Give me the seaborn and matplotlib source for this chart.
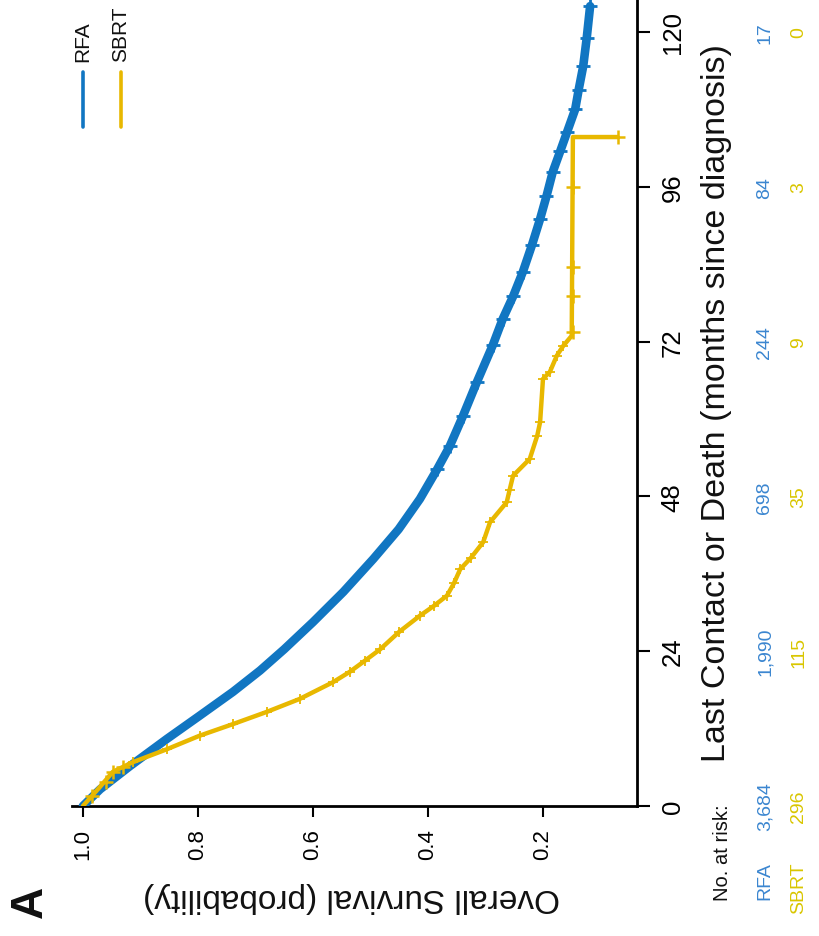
import matplotlib
matplotlib.use("Agg")
import matplotlib.pyplot as plt
from matplotlib import font_manager
from matplotlib.lines import Line2D
import matplotlib.transforms as mtransforms
import seaborn as sns
import numpy as np
import pandas as pd

# ---------------- data ----------------
rfa_months = [0, 2.6, 6.2, 10.4, 14, 17.7, 21, 24.3, 28.5, 33.2, 38.3, 42.9, 47.6,
              52.2, 55.8, 60.5, 65.7, 71.5, 75.5, 79, 82.8, 87, 91, 94.5, 98.3,
              101.5, 104.5, 108, 111, 114.7, 119, 124]
rfa_surv = [1.0, 0.97, 0.918, 0.854, 0.797, 0.739, 0.692, 0.650, 0.600, 0.547,
            0.495, 0.451, 0.414, 0.384, 0.362, 0.339, 0.315, 0.287, 0.27, 0.252,
            0.235, 0.219, 0.205, 0.194, 0.183, 0.17, 0.158, 0.144, 0.138, 0.13,
            0.124, 0.118]

sbrt_months = [0, 1.5, 3, 5.3, 6.8, 8.8, 10.9, 12.7, 14.6, 16.6, 19.2, 20.8, 22.5,
               24.3, 27, 29.5, 31, 32.6, 34.5, 36.7, 38.5, 40.9, 44, 47.1, 49,
               51.2, 53.8, 57.4, 59.5, 66.2, 67.3, 69.8, 71.3, 72.9, 103.7, 103.7]
sbrt_surv = [1.0, 0.985, 0.97, 0.948, 0.913, 0.854, 0.797, 0.739, 0.680, 0.623,
             0.565, 0.536, 0.51, 0.483, 0.45, 0.414, 0.39, 0.367, 0.355, 0.344,
             0.325, 0.304, 0.292, 0.263, 0.258, 0.252, 0.223, 0.210, 0.205, 0.2,
             0.188, 0.176, 0.165, 0.150, 0.148, 0.07]

sbrt_cens_months = [1.5, 3.7, 5.3, 6.0, 73.5, 79, 83.5, 96, 103.7]
sbrt_cens_surv = [0.985, 0.96, 0.948, 0.93, 0.148, 0.148, 0.148, 0.148, 0.07]

month_ticks = [0, 24, 48, 72, 96, 120]
surv_ticks = [1.0, 0.8, 0.6, 0.4, 0.2]
surv_tick_labels = ["1.0", "0.8", "0.6", "0.4", "0.2"]

groups = ["RFA", "SBRT"]
risk_rfa = ["3,684", "1,990", "698", "244", "84", "17"]
risk_sbrt = ["296", "115", "35", "9", "3", "0"]

# ---------------- styling ----------------
W, H = 819, 937
BLUE = "#1176c2"
YELLOW = "#e8b800"
BLUE_TXT = "#3b86d0"
YELLOW_TXT = "#d9c600"

sns.set_theme(style="white")
fams = {f.name for f in font_manager.fontManager.ttflist}
MAIN = "Liberation Sans" if "Liberation Sans" in fams else "DejaVu Sans"
NARROW = "Liberation Sans Narrow" if "Liberation Sans Narrow" in fams else MAIN
plt.rcParams["font.family"] = [MAIN, "DejaVu Sans"]

fig = plt.figure(figsize=(W / 100, H / 100), dpi=100)
fig.patch.set_facecolor("white")

def fx(px):
    return px / W

def fy(py):
    return 1 - py / H

left_px, right_px, bottom_px, top_px = 72, 637, 807, 0
ax = fig.add_axes([fx(left_px), fy(bottom_px), (right_px - left_px) / W,
                   (bottom_px - top_px) / H])
ax.set_facecolor("white")

df_rfa = pd.DataFrame({"surv": rfa_surv, "months": rfa_months})
df_sbrt = pd.DataFrame({"surv": sbrt_surv, "months": sbrt_months})
df_cens = pd.DataFrame({"surv": sbrt_cens_surv, "months": sbrt_cens_months})

sns.lineplot(data=df_rfa, x="surv", y="months", sort=False, estimator=None,
             color=BLUE, lw=6.2, ax=ax, zorder=3)
sns.scatterplot(data=df_rfa[df_rfa["months"] > 50], x="surv", y="months",
                marker="+", s=90, color=BLUE, linewidth=2, ax=ax, zorder=4)
sns.lineplot(data=df_sbrt, x="surv", y="months", sort=False, estimator=None,
             color=YELLOW, lw=3.2, ax=ax, zorder=5)
sns.scatterplot(data=df_sbrt.iloc[4:-3], x="surv", y="months", marker="+", s=45,
                color=YELLOW, linewidth=1.3, ax=ax, zorder=5)
sns.scatterplot(data=df_cens, x="surv", y="months", marker="+", s=90,
                color=YELLOW, linewidth=1.8, ax=ax, zorder=6)

ax.set_xlim(1.019, 0.0365)
ax.set_ylim(0, 125.1)
ax.set_xticks(surv_ticks)
ax.set_xticklabels(surv_tick_labels)
ax.set_yticks(month_ticks)
ax.set_yticklabels([str(m) for m in month_ticks])
ax.yaxis.tick_right()
ax.set_xlabel("")
ax.set_ylabel("")

for s in ["top", "left"]:
    ax.spines[s].set_visible(False)
for s in ["bottom", "right"]:
    ax.spines[s].set_visible(True)
    ax.spines[s].set_linewidth(2.0)
    ax.spines[s].set_color("black")

ax.tick_params(axis="x", which="major", bottom=True, direction="out", length=8,
               width=1.5, pad=8, labelsize=16, colors="black", labelrotation=90)
ax.tick_params(axis="y", which="major", right=True, left=False, direction="out",
               length=9, width=1.5, pad=8, labelsize=18.5, colors="black",
               labelrotation=90)
for lab in ax.get_yticklabels():
    lab.set_va("center")
    lab.set_ha("left")

# axis titles
fig.text(fx(352), fy(898), "Overall Survival (probability)", rotation=180,
         ha="center", va="center", fontsize=24, color="#111111")
fig.text(fx(716), fy(403), "Last Contact or Death (months since diagnosis)",
         rotation=90, ha="center", va="center", fontsize=24.5, color="#111111")

# panel letter
fig.text(fx(30), fy(902), "A", rotation=90, ha="center", va="center",
         fontsize=32, fontweight="bold", color="#111111")

# legend (drawn rotated)
for gx, name, col in [(83, groups[0], BLUE), (121, groups[1], YELLOW)]:
    fig.add_artist(Line2D([fx(gx), fx(gx)], [fy(73), fy(128)], color=col, lw=2.6,
                          transform=fig.transFigure))
    fig.text(fx(gx), fy(62), name, rotation=90, ha="center", va="bottom",
             fontsize=15, color="#111111")

# number at risk table
trans = mtransforms.blended_transform_factory(fig.transFigure, ax.transData)
fig.text(fx(723), fy(804), "No. at risk:", rotation=90, ha="center", va="top",
         fontsize=14.5, color="#111111", family=[NARROW, "DejaVu Sans"])
fig.text(fx(765), fy(862), groups[0], rotation=90, ha="center", va="top",
         fontsize=14, color=BLUE_TXT, family=[NARROW, "DejaVu Sans"])
fig.text(fx(799), fy(862), groups[1], rotation=90, ha="center", va="top",
         fontsize=14, color=YELLOW_TXT, family=[NARROW, "DejaVu Sans"])
for m, r1, r2 in zip(month_ticks, risk_rfa, risk_sbrt):
    ax.text(fx(765), m, r1, transform=trans, rotation=90, ha="center",
            va="center", fontsize=14, color=BLUE_TXT, clip_on=False,
            family=[NARROW, "DejaVu Sans"])
    ax.text(fx(799), m, r2, transform=trans, rotation=90, ha="center",
            va="center", fontsize=14, color=YELLOW_TXT, clip_on=False,
            family=[NARROW, "DejaVu Sans"])

fig.savefig("out.png", dpi=100, facecolor="white")
